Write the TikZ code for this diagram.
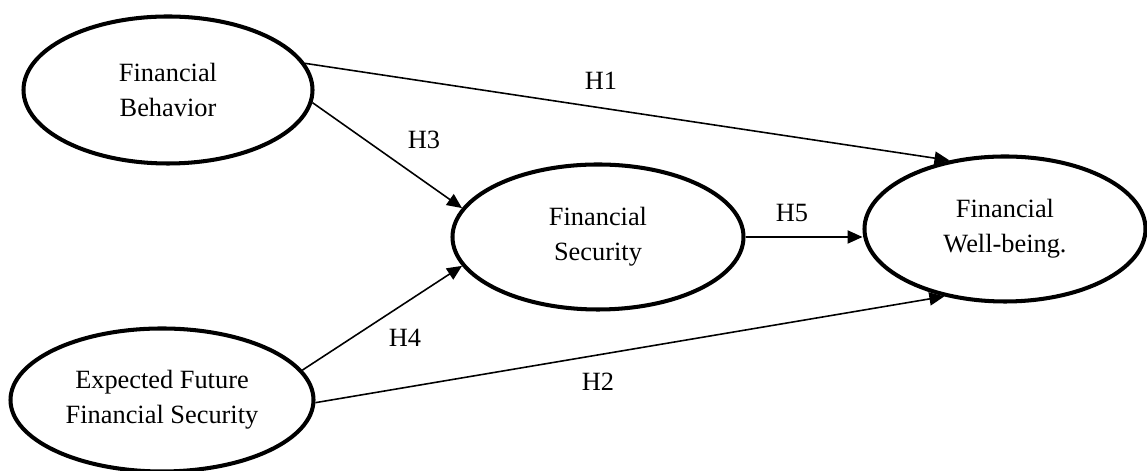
\documentclass[tikz,border=0pt]{standalone}
\usepackage{fontspec}
\setmainfont{Liberation Serif}
\usetikzlibrary{positioning, arrows.meta, calc, shapes.geometric}

\begin{document}
\begin{tikzpicture}[
    latent/.style={ellipse, draw=black, line width=2.3pt, minimum width=#1, inner sep=0pt, align=center, font=\fontsize{15}{19.8}\selectfont},
    arrow/.style={-{Triangle[length=8.5pt, width=7.5pt]}, line width=0.9pt},
    hlabel/.style={font=\fontsize{15}{18}\selectfont},
]

\useasboundingbox (0, 0) rectangle (22.94, 9.42);

% Constructs
\node[latent=5.78cm, minimum height=2.94cm] (fb) at (3.36, 7.62) {Financial\\Behavior};
\node[latent=6.06cm, minimum height=2.86cm] (ef) at (3.24, 1.42) {Expected Future\\Financial Security};
\node[latent=5.82cm, minimum height=2.90cm] (fs) at (11.96, 4.68) {Financial\\Security};
\node[latent=5.62cm, minimum height=2.90cm] (fw) at (20.10, 4.84) {Financial\\Well-being.};

% Paths
\draw[arrow] (fb.11) -- (fw.129);
\draw[arrow] (fb.-5) -- (fs.168);
\draw[arrow] (ef.12) -- (fs.-168);
\draw[arrow] (ef.-1) -- (fw.228);
\draw[arrow] (fs.east) -- (fs.east -| fw.west);

% Hypothesis labels
\node[hlabel] (h1) at (12.02, 7.80) {H1};
\node[hlabel] (h3) at (8.48, 6.62) {H3};
\node[hlabel] (h5) at (15.84, 5.16) {H5};
\node[hlabel] (h4) at (8.10, 2.66) {H4};
\node[hlabel] (h2) at (11.96, 1.78) {H2};

\end{tikzpicture}
\end{document}
